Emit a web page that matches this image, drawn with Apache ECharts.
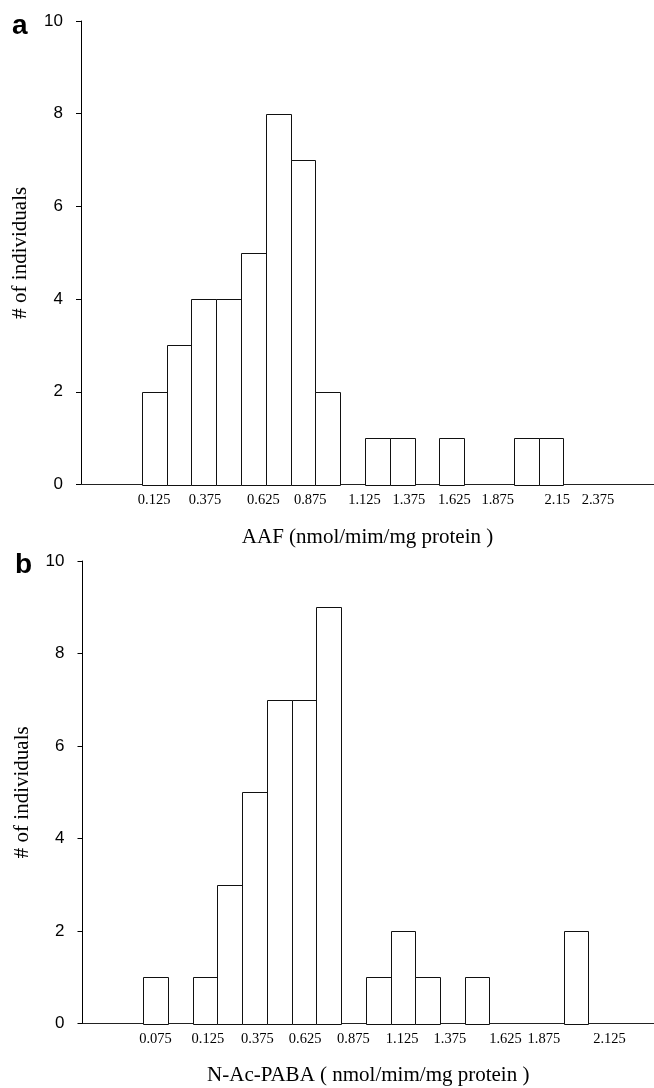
<!DOCTYPE html>
<html>
<head>
<meta charset="utf-8">
<script src="https://cdn.jsdelivr.net/npm/echarts@6.0.0/dist/echarts.min.js"></script>
<style>
  html, body { margin: 0; padding: 0; background: #fff; }
  #root { width: 654px; height: 1088px; }
</style>
</head>
<body>
<div id="root"></div>
<script>
  // counts per bin, bin k is centred on x = k
  const aafCounts = [2, 3, 4, 4, 5, 8, 7, 2, 0, 1, 1, 0, 1, 0, 0, 1, 1]
  const pabaCounts = [1, 0, 1, 3, 5, 7, 7, 9, 0, 1, 2, 1, 0, 1, 0, 0, 0, 2]

  // tick labels as printed, and where they sit along the bins
  const aafTickLabels = ['0.125', '0.375', '0.625', '0.875', '1.125', '1.375', '1.625', '1.875', '2.15', '2.375']
  const aafTickBins = [0, 2.05, 4.4, 6.29, 8.48, 10.27, 12.1, 13.85, 16.25, 17.89]
  const pabaTickLabels = ['0.075', '0.125', '0.375', '0.625', '0.875', '1.125', '1.375', '1.625', '1.875', '2.125']
  const pabaTickBins = [0, 2.12, 4.12, 6.05, 8.0, 9.97, 11.9, 14.15, 15.7, 18.35]

  const serif = '"Liberation Serif", "Times New Roman", serif'
  const sans = '"Liberation Sans", Arial, sans-serif'

  const chart = echarts.init(document.getElementById('root'))

  function xAxisFor (gridIndex, name, labels, at, nameGap) {
    return {
      type: 'value',
      gridIndex: gridIndex,
      min: -2.95,
      max: 20.15,
      name: name,
      nameLocation: 'middle',
      nameGap: nameGap,
      nameTextStyle: { fontFamily: serif, fontSize: 21, color: '#000' },
      axisLine: { onZero: false, lineStyle: { color: '#222', width: 1 } },
      axisTick: { show: false },
      splitLine: { show: false },
      axisLabel: {
        customValues: at,
        margin: 8,
        fontFamily: serif,
        fontSize: 14.5,
        color: '#000',
        formatter: function (v) {
          let best = 0
          at.forEach(function (p, i) { if (Math.abs(p - v) < Math.abs(at[best] - v)) best = i })
          return labels[best]
        }
      }
    }
  }

  function yAxisFor (gridIndex) {
    return {
      type: 'value',
      gridIndex: gridIndex,
      min: 0,
      max: 10,
      interval: 2,
      name: '# of individuals',
      nameLocation: 'middle',
      nameGap: 50,
      nameTextStyle: { fontFamily: serif, fontSize: 21, color: '#000' },
      axisLine: { show: true, onZero: false, lineStyle: { color: '#000', width: 1 } },
      axisTick: { show: true, length: 5, lineStyle: { color: '#000' } },
      splitLine: { show: false },
      axisLabel: { margin: 18, fontFamily: sans, fontSize: 17, color: '#000' }
    }
  }

  function histogram (axisIndex, counts) {
    return {
      type: 'custom',
      xAxisIndex: axisIndex,
      yAxisIndex: axisIndex,
      data: counts.map(function (c, k) { return [k, c] }),
      renderItem: function (params, api) {
        const k = api.value(0)
        const c = api.value(1)
        if (!c) return null
        const p0 = api.coord([k - 0.5, c])
        const p1 = api.coord([k + 0.5, 0])
        const x0 = Math.round(p0[0]) + 0.5
        const x1 = Math.round(p1[0]) + 0.5
        const y0 = Math.round(p0[1]) + 0.5
        const y1 = Math.round(p1[1]) + 0.5
        return {
          type: 'rect',
          shape: { x: x0, y: y0, width: x1 - x0, height: y1 - y0 },
          style: { fill: '#fff', stroke: '#111', lineWidth: 1 }
        }
      }
    }
  }

  const option = {
    backgroundColor: '#fff',
    animation: false,
    grid: [
      { left: 81, top: 21, width: 573, height: 463.5 },
      { left: 82.5, top: 561, width: 571.5, height: 462.5 }
    ],
    xAxis: [
      xAxisFor(0, 'AAF (nmol/mim/mg protein )', aafTickLabels, aafTickBins, 42),
      xAxisFor(1, 'N-Ac-PABA ( nmol/mim/mg protein )', pabaTickLabels, pabaTickBins, 41)
    ],
    yAxis: [yAxisFor(0), yAxisFor(1)],
    series: [histogram(0, aafCounts), histogram(1, pabaCounts)],
    graphic: [
      { type: 'text', left: 12, top: 12, style: { text: 'a', font: 'bold 28px ' + sans, fill: '#000' } },
      { type: 'text', left: 15, top: 551, style: { text: 'b', font: 'bold 28px ' + sans, fill: '#000' } }
    ]
  }

  chart.setOption(option)
</script>
</body>
</html>
